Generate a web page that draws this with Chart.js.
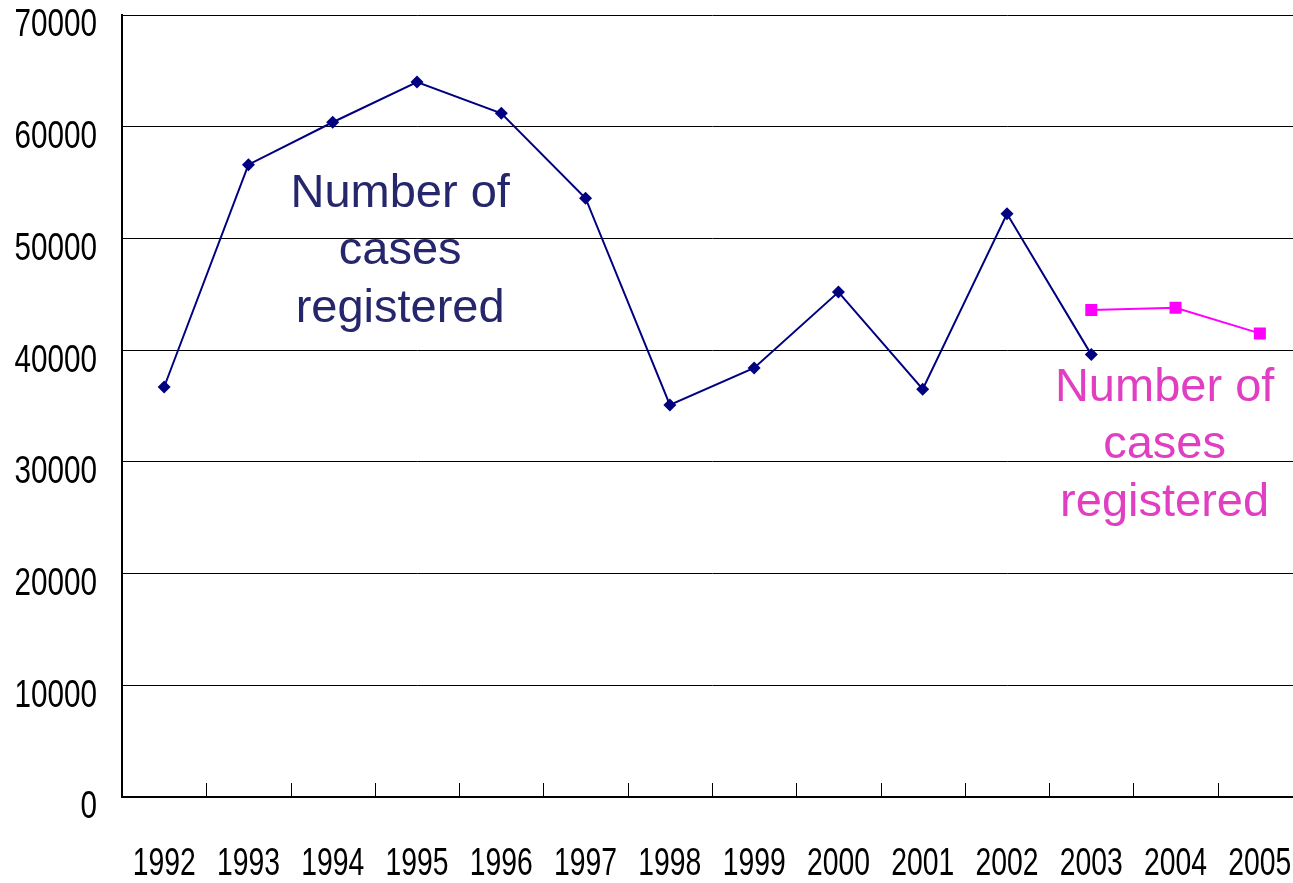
<!DOCTYPE html>
<html>
<head>
    <title>Number of cases registered</title>
    <script src="https://cdn.jsdelivr.net/npm/chart.js"></script>
    <style>
        html, body { margin: 0; padding: 0; background: #fff; overflow: hidden; }
        /* a área do gráfico passa um pouco da borda direita, como no original */
        #wrap { width: 1302px; height: 883px; }
    </style>
</head>
<body>
    <div id="wrap"><canvas id="grafico"></canvas></div>

    <script>
        // anos e valores
        const anos = ['1992', '1993', '1994', '1995', '1996', '1997', '1998',
                      '1999', '2000', '2001', '2002', '2003', '2004', '2005'];
        const casosAntigos = [36700, 56600, 60400, 64000, 61200, 53600, 35100,
                              38400, 45200, 36500, 52200, 39600, null, null];
        const casosNovos = [null, null, null, null, null, null, null,
                            null, null, null, null, 43600, 43800, 41500];

        // rótulos de texto dentro do gráfico (posição em coordenadas de dados)
        const rotuloTexto = ['Number of', 'cases', 'registered'];
        const rotuloAntigo = { x: 2.80, y: 48850, cor: '#25266b' };
        const rotuloNovo = { x: 11.87, y: 31500, cor: '#e03fc2' };

        // fonte estreita simulada (não há Arial Narrow instalada)
        const fonteEixo = "38px 'Liberation Sans', Arial, sans-serif";

        function textoEstreito(ctx, texto, x, y, escala, alinhar) {
            ctx.save();
            ctx.translate(x, y);
            ctx.scale(escala, 1);
            ctx.textAlign = alinhar;
            ctx.textBaseline = 'middle';
            ctx.fillText(texto, 0, 0);
            ctx.restore();
        }

        // desenha marcas do eixo x para dentro, rótulos dos eixos e os textos
        const extras = {
            id: 'extras',
            afterDraw(chart) {
                const ctx = chart.ctx;
                const x = chart.scales.x;
                const y = chart.scales.y;
                const fundo = chart.chartArea.bottom;
                ctx.save();
                ctx.strokeStyle = '#000';
                ctx.lineWidth = 1;
                for (let i = 1; i < anos.length; i++) {
                    const px = Math.round((x.getPixelForTick(i - 1) + x.getPixelForTick(i)) / 2) + 0.5;
                    ctx.beginPath();
                    ctx.moveTo(px, fundo);
                    ctx.lineTo(px, fundo - 14);
                    ctx.stroke();
                }

                ctx.fillStyle = '#000';
                ctx.font = fonteEixo;
                y.ticks.forEach((t, i) => {
                    textoEstreito(ctx, String(t.value), y.right - 25, y.getPixelForTick(i) + 11, 0.78, 'right');
                });
                anos.forEach((a, i) => {
                    textoEstreito(ctx, a, x.getPixelForTick(i), fundo + 68, 0.745, 'center');
                });

                ctx.font = "47px 'Liberation Sans', Arial, sans-serif";
                ctx.textAlign = 'center';
                ctx.textBaseline = 'middle';
                [rotuloAntigo, rotuloNovo].forEach(r => {
                    const cx = x.getPixelForValue(r.x);
                    const cy = y.getPixelForValue(r.y);
                    ctx.fillStyle = r.cor;
                    rotuloTexto.forEach((t, k) => {
                        ctx.fillText(t, cx, cy + (k - 1) * 57.5);
                    });
                });
                ctx.restore();
            }
        };

        const semPadding = s => {
            s.paddingTop = 0;
            s.paddingBottom = 0;
            s.paddingLeft = 0;
            s.paddingRight = 0;
        };

        const ctx = document.getElementById('grafico').getContext('2d');
        const myChart = new Chart(ctx, {
            type: 'line',
            data: {
                labels: anos,
                datasets: [{
                    label: 'Number of cases registered',
                    data: casosAntigos,
                    borderColor: '#000080',
                    backgroundColor: '#000080',
                    borderWidth: 2,
                    pointStyle: 'rectRot',
                    pointRadius: 6.5,
                    pointBorderWidth: 0,
                    tension: 0
                }, {
                    label: 'Number of cases registered',
                    data: casosNovos,
                    borderColor: '#ff00ff',
                    backgroundColor: '#ff00ff',
                    borderWidth: 2,
                    pointStyle: 'rect',
                    pointRadius: 8.5,
                    pointBorderWidth: 0,
                    tension: 0
                }]
            },
            options: {
                responsive: true,
                maintainAspectRatio: false,
                animation: false,
                layout: { autoPadding: false, padding: { top: 15, right: 0, left: 0, bottom: 0 } },
                plugins: {
                    legend: { display: false },
                    tooltip: { enabled: false }
                },
                scales: {
                    x: {
                        offset: true,
                        grid: { display: false, drawTicks: false },
                        border: { color: '#000', width: 2 },
                        ticks: { display: false, autoSkip: false },
                        afterFit: s => { s.height = 86; semPadding(s); }
                    },
                    y: {
                        min: 0,
                        max: 70000,
                        grid: { color: '#000', lineWidth: 1, drawTicks: false },
                        border: { color: '#000', width: 2 },
                        ticks: { display: false, stepSize: 10000 },
                        afterFit: s => { s.width = 122; semPadding(s); }
                    }
                }
            },
            plugins: [extras]
        });
    </script>
</body>
</html>
